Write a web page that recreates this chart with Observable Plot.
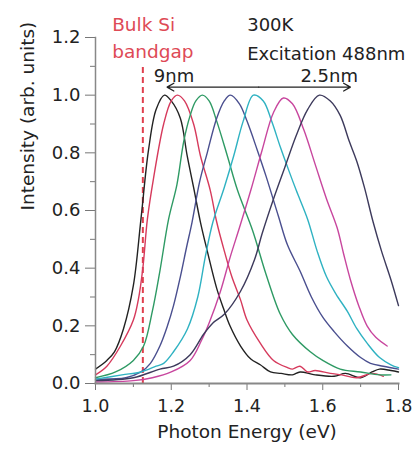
<!DOCTYPE html>
<html><head><meta charset="utf-8">
<script src="https://cdn.jsdelivr.net/npm/d3@7"></script>
<script src="https://cdn.jsdelivr.net/npm/@observablehq/plot@0.6"></script>
<style>body{margin:0;background:#fff;}</style>
</head><body><div id="chart"></div>
<script>
// ---- data ----
const seriesNames = ["9nm", "s2", "s3", "s4", "s5", "s6", "2.5nm"];
const seriesColors = ["#222222", "#d63a5c", "#2e9a64", "#4a4f8f", "#2fb2c2", "#c8469e", "#3d3a5c"];

const energy1 = [1.00,1.03,1.05,1.074,1.10,1.12,1.14,1.16,1.182,1.20,1.224,1.242,1.259,1.277,1.295,1.32,1.338,1.355,1.383,1.41,1.435,1.462,1.49,1.52,1.54,1.58,1.63,1.66,1.70,1.73,1.75,1.78,1.80];
const intensity1 = [0.05,0.08,0.11,0.19,0.34,0.57,0.81,0.95,1.00,0.98,0.92,0.79,0.68,0.56,0.46,0.33,0.26,0.20,0.13,0.085,0.065,0.04,0.035,0.03,0.04,0.03,0.025,0.035,0.02,0.04,0.05,0.045,0.04];

const energy2 = [1.00,1.03,1.066,1.10,1.113,1.125,1.137,1.153,1.18,1.20,1.216,1.235,1.259,1.277,1.303,1.32,1.34,1.36,1.383,1.40,1.435,1.47,1.507,1.52,1.54,1.56,1.58,1.62,1.65,1.69,1.73,1.76];
const intensity2 = [0.03,0.06,0.13,0.22,0.29,0.40,0.57,0.71,0.90,0.98,1.00,0.98,0.90,0.79,0.67,0.56,0.46,0.37,0.29,0.22,0.14,0.08,0.055,0.05,0.06,0.04,0.045,0.035,0.03,0.02,0.035,0.025];

const energy3 = [1.00,1.053,1.10,1.127,1.15,1.17,1.193,1.215,1.233,1.25,1.265,1.282,1.30,1.32,1.348,1.375,1.415,1.45,1.488,1.52,1.567,1.60,1.646,1.70,1.75,1.78];
const intensity3 = [0.02,0.04,0.08,0.13,0.25,0.39,0.57,0.69,0.84,0.93,0.98,1.00,0.98,0.91,0.79,0.67,0.53,0.38,0.24,0.17,0.11,0.08,0.05,0.04,0.03,0.03];

const energy4 = [1.00,1.08,1.12,1.145,1.17,1.19,1.206,1.224,1.24,1.255,1.275,1.295,1.32,1.34,1.356,1.38,1.40,1.427,1.45,1.483,1.507,1.54,1.57,1.60,1.63,1.665,1.70,1.726,1.76,1.80];
const intensity4 = [0.015,0.02,0.04,0.07,0.13,0.20,0.27,0.37,0.47,0.56,0.70,0.80,0.92,0.98,1.00,0.97,0.91,0.81,0.72,0.58,0.48,0.39,0.30,0.23,0.18,0.13,0.09,0.07,0.06,0.05];

const energy5 = [1.00,1.07,1.12,1.16,1.18,1.206,1.243,1.27,1.29,1.31,1.34,1.365,1.39,1.417,1.443,1.465,1.488,1.51,1.53,1.56,1.585,1.61,1.635,1.665,1.69,1.717,1.75,1.78,1.80];
const intensity5 = [0.015,0.03,0.04,0.06,0.07,0.11,0.19,0.30,0.44,0.56,0.68,0.79,0.91,1.00,0.98,0.91,0.82,0.74,0.67,0.57,0.46,0.37,0.31,0.25,0.19,0.14,0.09,0.065,0.055];

const energy6 = [1.00,1.10,1.15,1.20,1.25,1.28,1.30,1.33,1.356,1.38,1.41,1.44,1.47,1.496,1.52,1.55,1.58,1.61,1.638,1.655,1.673,1.695,1.717,1.74,1.77];
const intensity6 = [0.005,0.01,0.02,0.04,0.08,0.15,0.21,0.32,0.44,0.54,0.67,0.81,0.94,0.99,0.97,0.88,0.76,0.64,0.54,0.45,0.36,0.27,0.20,0.16,0.13];

const energy7 = [1.00,1.10,1.17,1.206,1.25,1.285,1.31,1.34,1.383,1.42,1.44,1.47,1.50,1.53,1.56,1.591,1.62,1.646,1.67,1.69,1.71,1.733,1.755,1.78,1.80];
const intensity7 = [0.01,0.02,0.05,0.06,0.10,0.17,0.21,0.24,0.32,0.43,0.52,0.64,0.75,0.86,0.95,1.00,0.98,0.93,0.84,0.77,0.68,0.56,0.46,0.36,0.27];

const xMajorTicks = [1.0, 1.2, 1.4, 1.6, 1.8];
const xMinorTicks = [1.1, 1.3, 1.5, 1.7];
const yMajorTicks = [0.0, 0.2, 0.4, 0.6, 0.8, 1.0, 1.2];
const yMinorTicks = [0.1, 0.3, 0.5, 0.7, 0.9, 1.1];

const bandgapEnergy = 1.125;
const bandgapTop = 1.10;
const arrowLevel = 1.028;
const arrowEnds = [1.189, 1.673];

const blackNotes = [
  {x: 1.4005, y: 1.224, text: "300K"},
  {x: 1.4005, y: 1.122, text: "Excitation 488nm"},
  {x: 1.154, y: 1.045, text: "9nm"},
  {x: 1.541, y: 1.045, text: "2.5nm"}
];
const redNotes = [
  {x: 1.044, y: 1.224, text: "Bulk Si"},
  {x: 1.044, y: 1.129, text: "bandgap"}
];

// ---- build table ----
const energies = [energy1, energy2, energy3, energy4, energy5, energy6, energy7];
const intensities = [intensity1, intensity2, intensity3, intensity4, intensity5, intensity6, intensity7];
const rows = seriesNames.flatMap((s, k) => energies[k].map((e, i) => ({series: s, E: e, I: intensities[k][i]})));
const arrowMid = (arrowEnds[0] + arrowEnds[1]) / 2;
const arrowRows = arrowEnds.map(e => ({x1: arrowMid, x2: e}));

const font = "DejaVu Sans";
const plot = Plot.plot({
  width: 412,
  height: 450,
  marginLeft: 95,
  marginRight: 14,
  marginTop: 37,
  marginBottom: 67,
  style: {fontFamily: font, fontSize: "18px", color: "#222", background: "#fff", overflow: "visible"},
  x: {domain: [1.0, 1.8]},
  y: {domain: [0, 1.2]},
  color: {domain: seriesNames, range: seriesColors},
  marks: [
    Plot.ruleX([bandgapEnergy], {y1: 0, y2: bandgapTop, stroke: "#e0404e", strokeWidth: 2, strokeDasharray: "6,4"}),
    Plot.line(rows, {x: "E", y: "I", z: "series", stroke: "series", strokeWidth: 1.4, curve: "catmull-rom"}),
    Plot.arrow(arrowRows, {x1: "x1", x2: "x2", y1: () => arrowLevel, y2: () => arrowLevel, stroke: "#222", strokeWidth: 1.3, headLength: 9}),
    Plot.text(blackNotes, {x: "x", y: "y", text: "text", textAnchor: "start", lineAnchor: "bottom", fill: "#222", fontSize: 18}),
    Plot.text(redNotes, {x: "x", y: "y", text: "text", textAnchor: "start", lineAnchor: "bottom", fill: "#de4a56", fontSize: 18.5}),
    Plot.axisX({ticks: xMajorTicks, tickFormat: d3.format(".1f"), tickSize: 7, tickPadding: 9, fontSize: 17.5, stroke: "#777", fill: "#222", label: null}),
    Plot.axisX({ticks: xMinorTicks, tickSize: 4, text: null, stroke: "#777", label: null}),
    Plot.axisY({ticks: yMajorTicks, tickFormat: d3.format(".1f"), tickSize: 10, tickPadding: 5, fontSize: 18, stroke: "#777", fill: "#222", label: null}),
    Plot.axisY({ticks: yMinorTicks, tickSize: 5, text: null, stroke: "#777", label: null}),
    Plot.frame({anchor: "left", stroke: "#888", strokeWidth: 1.5}),
    Plot.frame({anchor: "bottom", stroke: "#888", strokeWidth: 2}),
    Plot.text(["Photon Energy (eV)"], {frameAnchor: "bottom", dy: 54, lineAnchor: "bottom", fontSize: 18.5, fill: "#222"}),
    Plot.text(["Intensity (arb. units)"], {frameAnchor: "left", dx: -62, rotate: -90, lineAnchor: "bottom", fontSize: 18.5, fill: "#222"})
  ]
});
document.getElementById("chart").appendChild(plot);
</script>
</body></html>
